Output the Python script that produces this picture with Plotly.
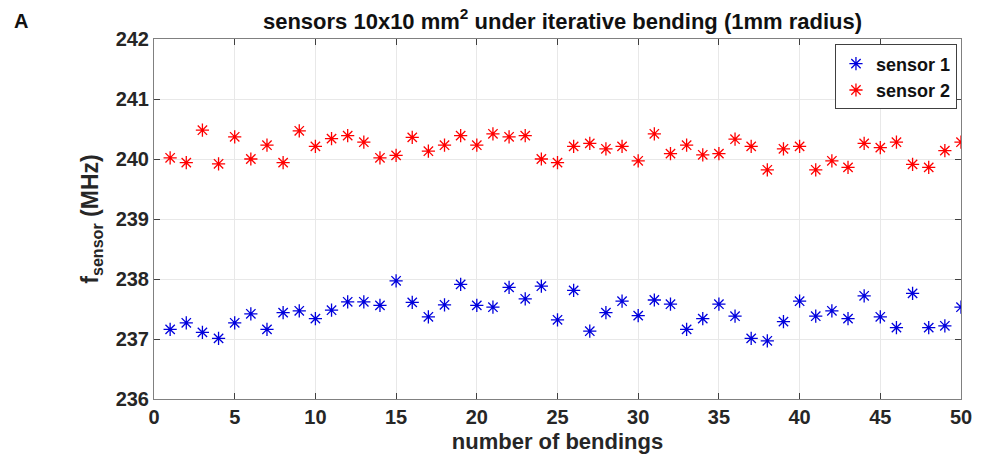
import plotly.graph_objects as go

bendings = list(range(1, 51))
sensor1 = [237.16, 237.27, 237.11, 237.01, 237.27, 237.42, 237.16, 237.44, 237.47, 237.34,
           237.48, 237.62, 237.62, 237.56, 237.97, 237.61, 237.37, 237.57, 237.91, 237.56,
           237.53, 237.86, 237.67, 237.88, 237.32, 237.81, 237.13, 237.44, 237.63, 237.39,
           237.65, 237.58, 237.16, 237.34, 237.58, 237.38, 237.01, 236.97, 237.29, 237.63,
           237.38, 237.47, 237.34, 237.72, 237.37, 237.19, 237.76, 237.19, 237.22, 237.53]
sensor2 = [240.02, 239.94, 240.48, 239.92, 240.37, 240.00, 240.23, 239.94, 240.47, 240.21,
           240.34, 240.39, 240.28, 240.02, 240.06, 240.36, 240.13, 240.23, 240.39, 240.23,
           240.42, 240.37, 240.39, 240.00, 239.94, 240.21, 240.26, 240.17, 240.21, 239.97,
           240.42, 240.09, 240.23, 240.07, 240.09, 240.33, 240.21, 239.82, 240.17, 240.21,
           239.82, 239.97, 239.86, 240.26, 240.19, 240.28, 239.91, 239.86, 240.14, 240.28]
x_ticks = list(range(0, 51, 5))
y_ticks = list(range(236, 243))

FONT = "Liberation Sans"

fig = go.Figure()
fig.add_trace(go.Scatter(x=bendings, y=sensor1, mode="markers", name="sensor 1",
                         marker=dict(symbol="asterisk-open", size=11, color="#0000dd",
                                     line=dict(width=1.3, color="#0000dd"))))
fig.add_trace(go.Scatter(x=bendings, y=sensor2, mode="markers", name="sensor 2",
                         marker=dict(symbol="asterisk-open", size=11, color="#ff0000",
                                     line=dict(width=1.3, color="#ff0000"))))

axis_common = dict(showline=True, linecolor="#808080", linewidth=1, mirror="ticks",
                   ticks="inside", ticklen=6, tickcolor="#404040",
                   showgrid=True, gridcolor="#e8e8e8", gridwidth=1, zeroline=False,
                   tickfont=dict(family=FONT, size=20, color="#262626", weight="bold"))

fig.update_layout(
    width=984, height=465,
    margin=dict(l=154, r=13, t=39, b=66),
    paper_bgcolor="white", plot_bgcolor="white",
    font=dict(family=FONT, color="#262626"),
    title=dict(text="sensors 10x10 mm<sup>2</sup> under iterative bending (1mm radius)",
               x=(154 + 971) / 2 / 984, xanchor="center", y=0.955, yanchor="middle",
               font=dict(family=FONT, size=22, color="#111111", weight="bold")),
    xaxis=dict(range=[0, 50], tickvals=x_ticks, **axis_common,
               title=dict(text="number of bendings", standoff=6,
                          font=dict(family=FONT, size=22, color="#262626", weight="bold"))),
    yaxis=dict(range=[236, 242], tickvals=y_ticks, **axis_common,
               title=dict(text="f<sub>sensor</sub> (MHz)", standoff=10,
                          font=dict(family=FONT, size=23, color="#262626", weight="bold"))),
    legend=dict(x=0.995, xanchor="right", y=0.985, yanchor="top",
                bgcolor="white", bordercolor="#404040", borderwidth=1,
                font=dict(family=FONT, size=18, color="#111111", weight="bold"),
                itemwidth=30, tracegroupgap=0),
    showlegend=True,
)
fig.add_annotation(text="A", xref="paper", yref="paper", x=-154/817 + 10/817, y=1 + 18/360,
                   xanchor="left", yanchor="middle", showarrow=False,
                   font=dict(family=FONT, size=20, color="#111111", weight="bold"))

fig.write_html("out.html")
